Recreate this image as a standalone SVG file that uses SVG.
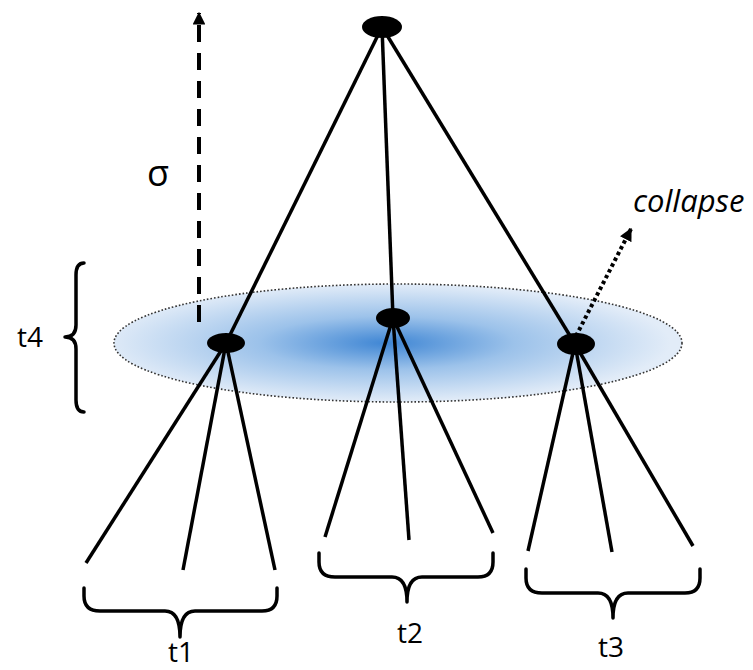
<svg xmlns="http://www.w3.org/2000/svg" width="753" height="670" viewBox="0 0 753 670">
<style>
.edge{stroke:#000;stroke-width:3.5;fill:none}
.brace{stroke:#000;stroke-width:3.5;fill:none;stroke-linecap:round;stroke-linejoin:round}
.node{fill:#000}
.lbl{font-family:"Open Sans","Liberation Sans",sans-serif;font-size:28px;fill:#000}
</style>
<defs>
<radialGradient id="blue" cx="0.48" cy="0.5" r="0.5">
<stop offset="0" stop-color="#3f86d4"/>
<stop offset="0.45" stop-color="#9cc2ea"/>
<stop offset="1" stop-color="#e2ecf8"/>
</radialGradient>
<marker id="ah" viewBox="0 0 10 10" refX="9" refY="5" markerWidth="3.2" markerHeight="3.2" orient="auto" markerUnits="strokeWidth">
<path d="M0,0 L10,5 L0,10 Z" fill="#000"/>
</marker>
</defs>
<g id="level-t4">
<ellipse cx="398" cy="343" rx="284" ry="59" fill="url(#blue)" stroke="#333" stroke-width="1.6" stroke-dasharray="1.6 2"/>
</g>
<g id="connectors">
<line class="edge" x1="382" y1="27" x2="226" y2="343"/>
<line class="edge" x1="382" y1="27" x2="393" y2="318"/>
<line class="edge" x1="382" y1="27" x2="575" y2="344"/>
<line class="edge" x1="226" y1="343" x2="86" y2="563"/>
<line class="edge" x1="226" y1="343" x2="183" y2="570"/>
<line class="edge" x1="226" y1="343" x2="275" y2="570"/>
<line class="edge" x1="393" y1="318" x2="325" y2="537"/>
<line class="edge" x1="393" y1="318" x2="409" y2="540"/>
<line class="edge" x1="393" y1="318" x2="493" y2="533"/>
<line class="edge" x1="575" y1="344" x2="528" y2="551"/>
<line class="edge" x1="575" y1="344" x2="612" y2="552"/>
<line class="edge" x1="575" y1="344" x2="693" y2="546"/>
<line x1="199" y1="322" x2="199" y2="13" stroke="#000" stroke-width="4" stroke-dasharray="17 11" marker-end="url(#ah)"/>
<line x1="576" y1="336" x2="631" y2="229" stroke="#000" stroke-width="4" stroke-dasharray="3.5 3" marker-end="url(#ah)"/>
</g>
<g id="root"><ellipse class="node" cx="382" cy="27" rx="20" ry="11"/></g>
<g id="node-t1"><ellipse class="node" cx="226" cy="343" rx="19" ry="10"/></g>
<g id="node-t2"><ellipse class="node" cx="393" cy="318" rx="17" ry="10"/></g>
<g id="node-t3"><ellipse class="node" cx="576" cy="344" rx="19" ry="11"/></g>
<g id="brace-t1">
<path class="brace" d="M84,588 L84,596 Q84,611 100,611 L165,611 Q180,611 180,637 Q180,611 195,611 L262,611 Q277,611 277,596 L277,588"/>
<text class="lbl" x="181" y="662" text-anchor="middle">t1</text>
</g>
<g id="brace-t2">
<path class="brace" d="M319,553 L319,562 Q319,577 335,577 L392,577 Q407,577 407,602 Q407,577 422,577 L478,577 Q493,577 493,562 L493,553"/>
<text class="lbl" x="410" y="643" text-anchor="middle">t2</text>
</g>
<g id="brace-t3">
<path class="brace" d="M526,569 L526,578 Q526,593 542,593 L598,593 Q613,593 613,618 Q613,593 628,593 L685,593 Q700,593 700,578 L700,569"/>
<text class="lbl" x="611" y="657" text-anchor="middle">t3</text>
</g>
<g id="brace-t4">
<path class="brace" d="M84,263 Q76,263 76,275 L76,325 Q76,337 65,337 Q76,337 76,349 L76,400 Q76,412 84,412"/>
<text class="lbl" x="43" y="347" text-anchor="end">t4</text>
</g>
<g id="labels">
<text class="lbl" x="158" y="186" text-anchor="middle" style="font-size:36px">σ</text>
<text class="lbl" x="633" y="212" font-style="italic" style="font-size:31px">collapse</text>
</g>
</svg>
